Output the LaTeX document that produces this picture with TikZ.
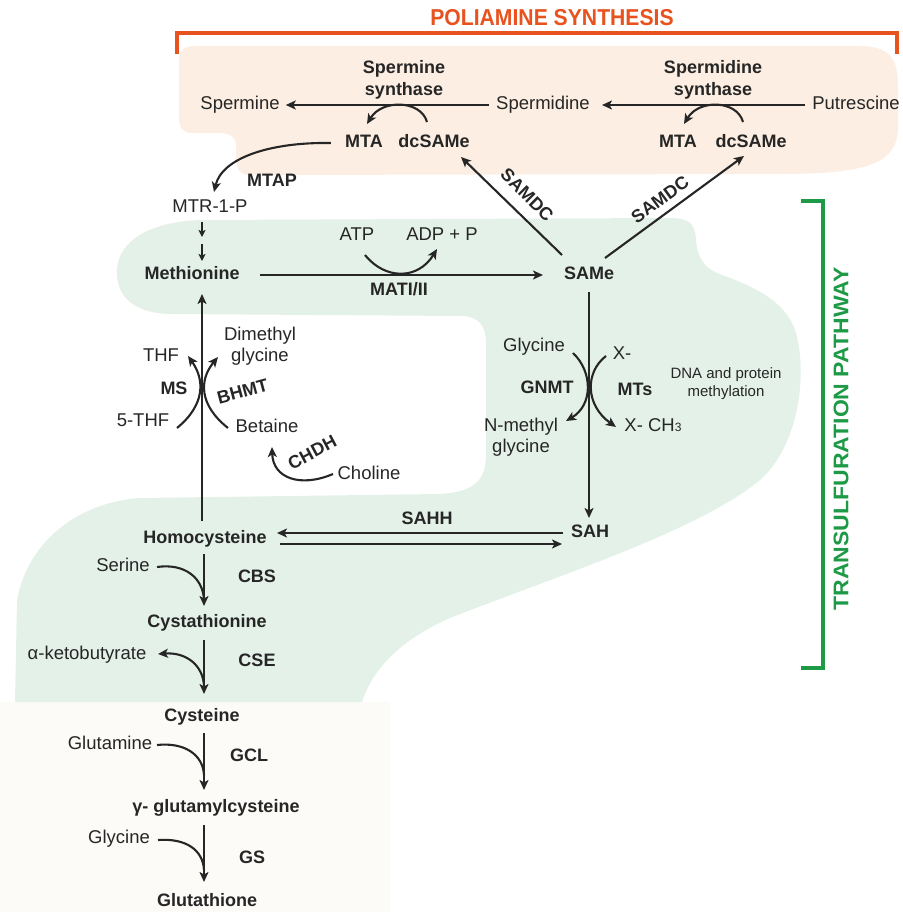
\documentclass[tikz,border=0pt]{standalone}
\usepackage{fontspec}
\setmainfont{Liberation Sans}
\usetikzlibrary{arrows.meta,calc}
\definecolor{txt}{HTML}{262626}
\definecolor{gfill}{HTML}{E4F1E9}
\definecolor{cfill}{HTML}{FCEEE2}
\definecolor{bfill}{HTML}{FDFBF8}
\definecolor{orng}{HTML}{E8521E}
\definecolor{grn}{HTML}{1E9A47}
\newcommand\fsreg{\fontsize{18.5}{21}\selectfont}
\newcommand\fsbld{\fontsize{18}{22}\selectfont\bfseries}
\newcommand\fssmall{\fontsize{15}{18}\selectfont}
\begin{document}
\begin{tikzpicture}[x=1pt,y=-1pt,
  reg/.style={font=\fsreg,text=txt,inner sep=0pt,text height=13pt,text depth=4pt},
  reg2/.style={font=\fsreg,text=txt,inner sep=0pt,align=center},
  bld/.style={font=\fsbld,text=txt,inner sep=0pt,text height=13pt,text depth=4pt},
  bld2/.style={font=\fsbld,text=txt,inner sep=0pt,align=center},
  sml/.style={font=\fssmall,text=txt,inner sep=0pt,align=center},
  arr/.style={line width=2.1pt,draw=txt,-{Stealth[length=10pt,width=9pt,inset=2.5pt]}},
  ln/.style={line width=2.1pt,draw=txt},
  sarr/.style={line width=1.7pt,draw=txt,-{Stealth[length=7pt,width=7pt,inset=1.5pt]}},
  brk/.style={line width=4pt},
  ttl/.style={font=\fontsize{23}{23}\selectfont\bfseries,inner sep=0pt,xscale=0.92}]
\useasboundingbox (0,0) rectangle (902,912);

% background blobs
\fill[bfill] (0,702) rectangle (390,912);
\fill[cfill] (179,60) .. controls (179,50) and (185,46) .. (195,46) -- (860,46)
  .. controls (890,46) and (898,60) .. (898,85) -- (898,130)
  .. controls (896,162) and (870,173) .. (790,174) -- (250,175)
  .. controls (239,175) and (236,168) .. (236,158) -- (236,146)
  .. controls (236,137) and (230,133) .. (218,133) -- (192,133)
  .. controls (183,133) and (179,128) .. (179,118) -- cycle;
\fill[gfill] (15,702) -- (362,702)
  .. controls (372,670) and (400,640) .. (450,618)
  .. controls (560,575) and (700,530) .. (760,480)
  .. controls (800,445) and (808,370) .. (795,330)
  .. controls (785,300) and (750,285) .. (722,275)
  .. controls (702,268) and (697,255) .. (696,240)
  .. controls (695,224) and (690,218) .. (670,218)
  -- (200,220)
  .. controls (150,222) and (120,240) .. (117,268)
  .. controls (115,295) and (132,313) .. (170,314)
  -- (462,316)
  .. controls (480,317) and (486,326) .. (486,345)
  -- (486,455)
  .. controls (486,482) and (472,492) .. (440,494)
  -- (140,498)
  .. controls (80,502) and (28,540) .. (17,600)
  -- cycle;

% brackets and titles
\draw[brk,orng] (177,54) -- (177,33) -- (897,33) -- (897,54);
\node[ttl,text=orng] (ttl1) at (552,18) {POLIAMINE SYNTHESIS};
\draw[brk,grn] (801,201) -- (823,201) -- (823,668) -- (801,668);
\node[ttl,text=grn,rotate=90] (ttl2) at (841,439) {TRANSULFURATION PATHWAY};

% polyamine part
\node[reg] (spm) at (240,105) {Spermine};
\node[reg] (spd) at (543,105) {Spermidine};
\node[reg] (put) at (856,105) {Putrescine};
\node[bld2] (sms) at (404,80) {Spermine\\synthase};
\node[bld2] (sds) at (713,80) {Spermidine\\synthase};
\node[bld] (mta1) at (364,143) {MTA};
\node[bld] (dcs1) at (434,143) {dcSAMe};
\node[bld] (mta2) at (678,143) {MTA};
\node[bld] (dcs2) at (751,143) {dcSAMe};
\node[bld] (mtap) at (272,182) {MTAP};
\node[reg] (mtr) at (210,208) {MTR-1-P};

\draw[arr] ($(put.west)+(-7,0)$) -- ($(spd.east)+(12,0)$);
\draw[arr] ($(spd.west)+(-7,0)$) -- ($(spm.east)+(6,0)$);
\draw[arr] ($(dcs1)+(-7,-21)$) .. controls (421,100) and (382,99) .. ($(mta1)+(3,-19)$);
\draw[arr] ($(dcs2)+(-8,-21)$) .. controls (737,100) and (699,99) .. ($(mta2)+(6,-19)$);
\draw[arr] ($(mta1.west)+(-14,0)$) .. controls (270,142) and (222,158) .. ($(mtr)+(4,-16)$);

% methionine cycle
\node[bld] (met) at (192,275) {Methionine};
\node[reg] (atp) at (357,236) {ATP};
\node[reg] (adp) at (442,236) {ADP + P};
\node[bld] (mat) at (399,291) {MATI/II};
\node[bld] (same) at (589,275) {SAMe};
\node[bld,rotate=-45] (sd1) at (526,196) {SAMDC};
\node[bld,rotate=36] (sd2) at (661,201) {SAMDC};

\draw[sarr] ($(mtr)+(-8,14)$) -- ($(mtr)+(-8,29)$);
\draw[sarr] ($(met)+(10,-31)$) -- ($(met)+(10,-14)$);
\draw[arr] ($(met)+(68,0)$) -- ($(same)+(-46,0)$);
\draw[arr] ($(atp)+(8,19)$) .. controls (385,280) and (418,280) .. ($(adp)+(-5,13)$);
\draw[arr] ($(same)+(-27,-20)$) -- ($(dcs1)+(27,14)$);
\draw[arr] ($(same)+(16,-17)$) -- ($(dcs2)+(-7,13)$);

\node[reg2] (dmg) at (260,346) {Dimethyl\\glycine};
\node[reg] (thf) at (161,357) {THF};
\node[bld] (ms) at (174,390) {MS};
\node[bld,rotate=15] (bhmt) at (243,393) {BHMT};
\node[reg] (fthf) at (143,422) {5-THF};
\node[reg] (bet) at (267,428) {Betaine};
\node[bld,rotate=28] (chdh) at (313,454) {CHDH};
\node[reg] (cho) at (369,475) {Choline};

\node[bld] (hcy) at (205,539) {Homocysteine};
\node[bld] (sah) at (590,533) {SAH};
\node[bld] (sahh) at (427,520) {SAHH};

\draw[arr] ($(hcy)+(-3,-18)$) -- ($(met)+(10,19)$);
\draw[arr] ($(fthf)+(34,6)$) .. controls (205,405) and (205,380) .. ($(thf)+(27,-1)$);
\draw[arr] ($(bet)+(-39,0)$) .. controls (199,405) and (199,380) .. ($(dmg)+(-42,11)$);
\draw[arr] ($(cho)+(-36,-1)$) .. controls (300,488) and (273,478) .. ($(bet)+(5,19)$);

\node[reg] (gly1) at (534,347) {Glycine};
\node[reg] (xm) at (622,355) {X-};
\node[bld] (gnmt) at (547,389) {GNMT};
\node[bld] (mts) at (635,391) {MTs};
\node[sml] (dna) at (726,384) {DNA and protein\\methylation};
\node[reg2] (nmg) at (521,437) {N-methyl\\glycine};
\node[reg] (xch3) at (653,427) {X- CH{\fontsize{12}{12}\selectfont 3}};

\draw[arr] ($(same)+(0,17)$) -- ($(sah)+(-1,-15)$);
\draw[arr] ($(gly1)+(39,6)$) .. controls (593,372) and (593,405) .. ($(nmg)+(45,-16)$);
\draw[arr] ($(xm)+(-16,1)$) .. controls (585,372) and (585,405) .. ($(xch3)+(-37,0)$);

\draw[arr] ($(sah)+(-27,0)$) -- ($(hcy)+(72,-6)$);
\draw[arr] ($(hcy)+(75,5)$) -- ($(sah)+(-28,11)$);

% transsulfuration
\node[reg] (ser) at (123,567) {Serine};
\node[bld] (cbs) at (257,578) {CBS};
\node[bld] (cyst) at (207,623) {Cystathionine};
\node[reg] (akb) at (87,655) {α-ketobutyrate};
\node[bld] (cse) at (257,662) {CSE};
\node[bld] (cys) at (202,717) {Cysteine};
\node[reg] (gln) at (110,745) {Glutamine};
\node[bld] (gcl) at (249,757) {GCL};
\node[bld] (ggc) at (216,808) {γ- glutamylcysteine};
\node[reg] (gly2) at (119,839) {Glycine};
\node[bld] (gs) at (252,859) {GS};
\node[bld] (gsh) at (207,902) {Glutathione};

\coordinate (j1) at (204,600);
\coordinate (j2) at (204,686);
\coordinate (j3) at (204,775);
\coordinate (j4) at (204,870);

\draw[arr] ($(hcy)+(-1,15)$) -- ($(cyst)+(-3,-17)$);
\draw[ln] ($(ser)+(34,0)$) .. controls (185,563) and (203,578) .. (j1);
\draw[arr] ($(cyst)+(-3,17)$) -- ($(cys)+(2,-23)$);
\draw[arr] (j2) .. controls (203,665) and (186,652) .. ($(akb)+(71,-1)$);
\draw[arr] ($(cys)+(2,16)$) -- ($(ggc)+(-12,-18)$);
\draw[ln] ($(gln)+(47,0)$) .. controls (185,742) and (203,755) .. (j3);
\draw[arr] ($(ggc)+(-12,17)$) -- ($(gsh)+(-3,-20)$);
\draw[ln] ($(gly2)+(39,1)$) .. controls (186,838) and (203,850) .. (j4);
\end{tikzpicture}
\end{document}
